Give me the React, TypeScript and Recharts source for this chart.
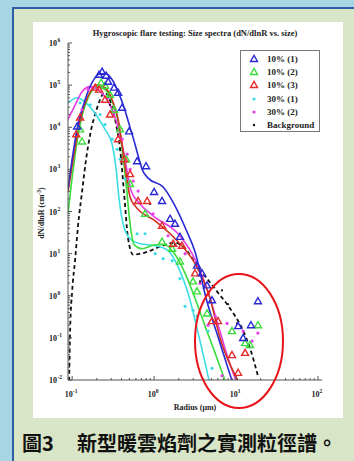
import React from "react";
import { ComposedChart, Line, Scatter, XAxis, YAxis, Legend } from "recharts";

// axes (log-log)
const X_DOMAIN = [0.089, 112];
const Y_DOMAIN = [0.01, 1e6];
const X_DECADES = [0.01, 0.1, 1, 10, 100];
const Y_DECADES = [0.01, 0.1, 1, 10, 100, 1e3, 1e4, 1e5, 1e6];

// measured points (r in um, n = dN/dlnR)
const tri10_1 = [
  { r: 0.115, n: 1.04e4 }, { r: 0.213, n: 1.76e5 }, { r: 0.232, n: 2.07e5 }, { r: 0.26, n: 1.67e5 },
  { r: 0.275, n: 1.2e5 }, { r: 0.325, n: 8.7e4 }, { r: 0.364, n: 6.6e4 }, { r: 0.407, n: 2.9e4 },
  { r: 0.496, n: 8.0e3 }, { r: 0.621, n: 1560 }, { r: 0.798, n: 1190 }, { r: 1.0, n: 290 },
  { r: 1.25, n: 178 }, { r: 1.57, n: 67 }, { r: 1.8, n: 51 }, { r: 2.07, n: 25 },
  { r: 3.34, n: 5.2 }, { r: 3.85, n: 3.4 }, { r: 4.43, n: 1.76 }, { r: 5.09, n: 0.78 },
  { r: 10.6, n: 0.19 }, { r: 12.2, n: 0.099 }, { r: 15.2, n: 0.2 }, { r: 18.5, n: 0.74 },
];
const tri10_2 = [
  { r: 0.125, n: 8.9e3 }, { r: 0.132, n: 4.6e3 }, { r: 0.226, n: 1.14e5 }, { r: 0.252, n: 9.7e4 },
  { r: 0.29, n: 5.9e4 }, { r: 0.325, n: 2.6e4 }, { r: 0.385, n: 8.9e3 }, { r: 0.456, n: 1740 },
  { r: 0.509, n: 448 }, { r: 0.776, n: 88 }, { r: 1.25, n: 19.2 }, { r: 1.66, n: 13.1 },
  { r: 2.07, n: 6.5 }, { r: 2.99, n: 2.19 }, { r: 3.34, n: 1.27 }, { r: 4.43, n: 0.38 },
  { r: 8.93, n: 0.145 }, { r: 12.9, n: 0.075 }, { r: 14.8, n: 0.068 }, { r: 18.5, n: 0.2 },
];
const tri10_3 = [
  { r: 0.112, n: 6.8e3 }, { r: 0.125, n: 1.7e4 }, { r: 0.191, n: 8.7e4 }, { r: 0.213, n: 7.8e4 },
  { r: 0.252, n: 4.5e4 }, { r: 0.29, n: 2.0e4 }, { r: 0.364, n: 5.2e3 }, { r: 0.431, n: 1740 },
  { r: 0.509, n: 770 }, { r: 0.638, n: 178 }, { r: 0.822, n: 178 }, { r: 1.25, n: 46 },
  { r: 1.71, n: 17.2 }, { r: 2.19, n: 15.4 }, { r: 3.16, n: 3.4 }, { r: 5.09, n: 0.25 },
  { r: 6.03, n: 0.25 }, { r: 8.93, n: 0.039 }, { r: 10.6, n: 0.0148 }, { r: 12.9, n: 0.044 },
];
const dot30_1 = [
  { r: 0.125, n: 3.8e4 }, { r: 0.166, n: 3.4e4 }, { r: 0.219, n: 2.0e4 }, { r: 0.252, n: 1.16e4 },
  { r: 0.308, n: 5.2e3 }, { r: 0.354, n: 3.0e3 }, { r: 0.385, n: 1740 }, { r: 0.443, n: 590 },
  { r: 0.621, n: 29.6 }, { r: 0.776, n: 29.6 }, { r: 1.03, n: 10 }, { r: 1.29, n: 7.6 },
  { r: 1.66, n: 6.8 }, { r: 2.07, n: 2.57 }, { r: 2.39, n: 0.56 }, { r: 2.99, n: 0.45 },
  { r: 3.34, n: 0.33 }, { r: 4.56, n: 0.145 }, { r: 5.09, n: 0.019 },
];
const dot30_2 = [
  { r: 0.132, n: 2.6e4 }, { r: 0.157, n: 7.8e4 }, { r: 0.18, n: 8.7e4 }, { r: 0.275, n: 5.0e4 },
  { r: 0.334, n: 2.4e4 }, { r: 0.407, n: 5.2e3 }, { r: 0.469, n: 2.3e3 }, { r: 0.509, n: 1000 },
  { r: 0.555, n: 527 }, { r: 0.638, n: 306 }, { r: 0.972, n: 88 }, { r: 1.48, n: 26.6 },
  { r: 2.39, n: 10 }, { r: 3.64, n: 1.96 }, { r: 4.56, n: 0.2 }, { r: 5.55, n: 0.33 },
  { r: 6.74, n: 0.0126 }, { r: 7.76, n: 0.22 }, { r: 12.2, n: 0.145 }, { r: 15.7, n: 0.084 },
  { r: 18.5, n: 0.13 },
];
const dotBg = [
  { r: 0.29, n: 3.4e4 }, { r: 0.385, n: 3.0e3 }, { r: 0.893, n: 151 }, { r: 1.8, n: 16.3 },
  { r: 3.64, n: 2.19 }, { r: 6.74, n: 1.34 }, { r: 7.98, n: 0.63 }, { r: 10.3, n: 0.22 },
];

// fitted spectra
const fit10_1 = [
  { r: 0.089, n: 341 }, { r: 0.1, n: 1740 }, { r: 0.118, n: 1.16e4 }, { r: 0.144, n: 4.5e4 },
  { r: 0.175, n: 1.14e5 }, { r: 0.219, n: 1.86e5 }, { r: 0.26, n: 1.86e5 }, { r: 0.308, n: 1.34e5 },
  { r: 0.364, n: 7.0e4 }, { r: 0.431, n: 2.9e4 }, { r: 0.509, n: 9.9e3 }, { r: 0.586, n: 3.9e3 },
  { r: 0.656, n: 1740 }, { r: 0.714, n: 1010 }, { r: 0.846, n: 620 }, { r: 1.29, n: 380 },
  { r: 1.8, n: 136 }, { r: 2.52, n: 33 }, { r: 3.16, n: 11.1 }, { r: 4.31, n: 0.87 },
  { r: 6.38, n: 0.075 }, { r: 8.93, n: 0.0096 },
];
const fit10_2 = [
  { r: 0.089, n: 88 }, { r: 0.103, n: 1010 }, { r: 0.125, n: 1.16e4 }, { r: 0.157, n: 5.0e4 },
  { r: 0.202, n: 9.2e4 }, { r: 0.252, n: 7.8e4 }, { r: 0.308, n: 4.1e4 }, { r: 0.364, n: 1.37e4 },
  { r: 0.407, n: 3.0e3 }, { r: 0.456, n: 448 }, { r: 0.509, n: 51 }, { r: 0.57, n: 16.3 },
  { r: 0.714, n: 13.1 }, { r: 1.03, n: 16.3 }, { r: 1.36, n: 16.3 }, { r: 1.8, n: 9.5 },
  { r: 2.39, n: 3.4 }, { r: 3.16, n: 0.87 }, { r: 4.19, n: 0.19 }, { r: 5.55, n: 0.044 },
  { r: 7.35, n: 0.0096 },
];
const fit10_3 = [
  { r: 0.089, n: 290 }, { r: 0.103, n: 1740 }, { r: 0.125, n: 1.53e4 }, { r: 0.157, n: 5.6e4 },
  { r: 0.202, n: 1.02e5 }, { r: 0.252, n: 8.7e4 }, { r: 0.308, n: 4.5e4 }, { r: 0.364, n: 1.53e4 },
  { r: 0.407, n: 3.9e3 }, { r: 0.456, n: 770 }, { r: 0.509, n: 221 }, { r: 0.586, n: 136 },
  { r: 1.03, n: 60 }, { r: 1.96, n: 19.2 }, { r: 3.16, n: 5.8 }, { r: 4.82, n: 0.87 },
  { r: 6.38, n: 0.099 }, { r: 10.6, n: 0.0096 },
];
const fit30_1 = [
  { r: 0.089, n: 3.8e4 }, { r: 0.115, n: 5.0e4 }, { r: 0.152, n: 3.6e4 }, { r: 0.202, n: 1.8e4 },
  { r: 0.252, n: 8.9e3 }, { r: 0.308, n: 3.9e3 }, { r: 0.344, n: 1010 }, { r: 0.374, n: 198 },
  { r: 0.419, n: 51 }, { r: 0.509, n: 22.6 }, { r: 0.675, n: 17.2 }, { r: 1.03, n: 15.4 },
  { r: 1.48, n: 11.8 }, { r: 1.96, n: 4.9 }, { r: 2.6, n: 1.14 }, { r: 3.34, n: 0.17 },
  { r: 4.07, n: 0.033 }, { r: 4.69, n: 0.0096 },
];
const fit30_2 = [
  { r: 0.089, n: 1.53e4 }, { r: 0.109, n: 3.4e4 }, { r: 0.132, n: 7.0e4 }, { r: 0.166, n: 9.2e4 },
  { r: 0.207, n: 7.8e4 }, { r: 0.252, n: 5.3e4 }, { r: 0.308, n: 2.6e4 }, { r: 0.364, n: 9.9e3 },
  { r: 0.419, n: 3.0e3 }, { r: 0.469, n: 907 }, { r: 0.525, n: 306 }, { r: 0.675, n: 151 },
  { r: 0.972, n: 79 }, { r: 1.96, n: 29.6 }, { r: 2.91, n: 10 }, { r: 4.19, n: 1.96 },
  { r: 6.21, n: 0.17 }, { r: 7.98, n: 0.033 }, { r: 10, n: 0.0096 },
];
const fitBg = [
  { r: 0.0919, n: 0.0096 }, { r: 0.0946, n: 0.17 }, { r: 0.1, n: 1.27 }, { r: 0.109, n: 7.6 },
  { r: 0.118, n: 46 }, { r: 0.132, n: 290 }, { r: 0.148, n: 1740 }, { r: 0.166, n: 6.8e3 },
  { r: 0.196, n: 2.4e4 }, { r: 0.219, n: 4.5e4 }, { r: 0.246, n: 6.6e4 }, { r: 0.275, n: 5.6e4 },
  { r: 0.308, n: 2.9e4 }, { r: 0.344, n: 1.16e4 }, { r: 0.385, n: 3.0e3 }, { r: 0.431, n: 260 },
  { r: 0.482, n: 22.6 }, { r: 0.555, n: 9.5 }, { r: 0.776, n: 10.6 }, { r: 1.18, n: 14.6 },
  { r: 1.8, n: 18.2 }, { r: 2.39, n: 13.1 }, { r: 3.34, n: 5.2 }, { r: 5.86, n: 1.27 },
  { r: 8.45, n: 0.5 }, { r: 11.8, n: 0.17 }, { r: 14.8, n: 0.057 }, { r: 18.5, n: 0.0126 },
];

const LEGEND_LABELS = ["10% (1)", "10% (2)", "10% (3)", "30% (1)", "30% (2)", "Background"];
const TITLE = "Hygroscopic flare testing: Size spectra (dN/dlnR vs. size)";

const BLUE = "#2a2ad4";
const GREEN = "#3cdc3c";
const RED = "#e62a2a";
const CYAN = "#3cdde6";
const MAGENTA = "#e63ce6";
const BLACK = "#111";
const AXIS = "#555";
const SERIF = "'Liberation Serif', 'DejaVu Serif', serif";
const LEGEND_COLORS = [BLUE, GREEN, RED, CYAN, MAGENTA, BLACK];

const ticksFor = (decades: number[], lo: number, hi: number) =>
  decades
    .flatMap((d) => [1, 2, 3, 4, 5, 6, 7, 8, 9].map((m) => d * m))
    .filter((v) => v >= lo && v <= hi);
const X_TICKS = ticksFor(X_DECADES, X_DOMAIN[0], X_DOMAIN[1]);
const Y_TICKS = ticksFor(Y_DECADES, Y_DOMAIN[0], Y_DOMAIN[1]);

const expOf = (v: number) => {
  const l = Math.log10(v);
  const e = Math.round(l);
  return { e, major: Math.abs(l - e) < 1e-6 };
};

const BottomTick = (p: any) => {
  const { x, y, payload } = p;
  const { e, major } = expOf(payload.value);
  return (
    <g>
      <line x1={x} x2={x} y1={y} y2={y - (major ? 4 : 2)} stroke={AXIS} />
      {major && (
        <text x={x - 1} y={y + 17} textAnchor="middle" fontFamily={SERIF} fontWeight="bold" fontSize={8} fill="#222">
          10<tspan dy={-4} fontSize={5.5}>{e}</tspan>
        </text>
      )}
    </g>
  );
};
const TopTick = (p: any) => {
  const { x, y, payload } = p;
  const { major } = expOf(payload.value);
  return <line x1={x} x2={x} y1={y} y2={y + (major ? 4 : 2)} stroke={AXIS} />;
};
const LeftTick = (p: any) => {
  const { x, y, payload } = p;
  const { e, major } = expOf(payload.value);
  return (
    <g>
      <line x1={x} x2={x + (major ? 4 : 2)} y1={y} y2={y} stroke={AXIS} />
      {major && (
        <>
          <text x={x - 11} y={y + 3} textAnchor="end" fontFamily={SERIF} fontWeight="bold" fontSize={8} fill="#222">
            10
          </text>
          <text x={x - 10.5} y={y - 1} textAnchor="start" fontFamily={SERIF} fontWeight="bold" fontSize={5.5} fill="#222">
            {e}
          </text>
        </>
      )}
    </g>
  );
};
const RightTick = (p: any) => {
  const { x, y, payload } = p;
  const { major } = expOf(payload.value);
  return <line x1={x} x2={x - (major ? 4 : 2)} y1={y} y2={y} stroke={AXIS} />;
};

const triangle = (color: string) => (p: any) => {
  const { cx, cy } = p;
  return (
    <path
      d={`M${cx},${cy - 3.6}L${cx + 3.5},${cy + 2.5}L${cx - 3.5},${cy + 2.5}Z`}
      fill="none"
      stroke={color}
      strokeWidth={1.4}
    />
  );
};
const dot = (color: string, r: number) => (p: any) => <circle cx={p.cx} cy={p.cy} r={r} fill={color} />;

const LegendBox = () => (
  <div
    style={{
      width: 80,
      height: 82,
      boxSizing: "border-box",
      border: "1px solid #777",
      background: "#fff",
      paddingTop: 1,
    }}
  >
    {LEGEND_LABELS.map((label, i) => (
      <div key={label} style={{ display: "flex", alignItems: "center", height: 13.3 }}>
        <svg width={26} height={12}>
          {i < 3 ? (
            <path d="M13,2.4L16.5,8.5L9.5,8.5Z" fill="none" stroke={LEGEND_COLORS[i]} strokeWidth={1.4} />
          ) : (
            <circle cx={13} cy={6} r={i === 5 ? 1.2 : 1.6} fill={LEGEND_COLORS[i]} />
          )}
        </svg>
        <span style={{ fontFamily: SERIF, fontWeight: "bold", fontSize: 9, color: "#222", whiteSpace: "nowrap" }}>
          {label}
        </span>
      </div>
    ))}
  </div>
);

export default function App() {
  return (
    <div
      style={{
        position: "absolute",
        left: 0,
        top: 0,
        width: 354,
        height: 461,
        overflow: "hidden",
        background: "#a7d5e3",
      }}
    >
      <div
        style={{
          position: "absolute",
          left: 12,
          top: 7,
          width: 350,
          height: 460,
          background: "#d8e5c6",
          borderLeft: "2px solid #2f5ca6",
          borderTop: "2px solid #2f5ca6",
        }}
      />
      <div style={{ position: "absolute", left: 33, top: 22, width: 310, height: 396, background: "#fff" }}>
        <ComposedChart width={310} height={396} margin={{ top: 21, right: 21, bottom: 0, left: 0 }}>
          <XAxis
            xAxisId={0}
            dataKey="r"
            type="number"
            scale="log"
            domain={X_DOMAIN}
            allowDataOverflow
            ticks={X_TICKS}
            interval={0}
            tickSize={0}
            tickMargin={0}
            tick={<BottomTick />}
            height={38}
            stroke={AXIS}
          />
          <XAxis
            xAxisId="top"
            orientation="top"
            type="number"
            scale="log"
            domain={X_DOMAIN}
            allowDataOverflow
            ticks={X_TICKS}
            interval={0}
            tickSize={0}
            tickMargin={0}
            tick={<TopTick />}
            height={0}
            stroke={AXIS}
          />
          <YAxis
            yAxisId={0}
            dataKey="n"
            type="number"
            scale="log"
            domain={Y_DOMAIN}
            allowDataOverflow
            ticks={Y_TICKS}
            interval={0}
            tickSize={0}
            tickMargin={0}
            tick={<LeftTick />}
            width={35}
            stroke={AXIS}
          />
          <YAxis
            yAxisId="right"
            orientation="right"
            type="number"
            scale="log"
            domain={Y_DOMAIN}
            allowDataOverflow
            ticks={Y_TICKS}
            interval={0}
            tickSize={0}
            tickMargin={0}
            tick={<RightTick />}
            width={0}
            stroke={AXIS}
          />
          <Line data={fitBg} dataKey="n" type="monotone" stroke={BLACK} strokeWidth={1.8} strokeDasharray="4 3" dot={false} isAnimationActive={false} />
          <Line data={fit30_1} dataKey="n" type="monotone" stroke={CYAN} strokeWidth={1.6} dot={false} isAnimationActive={false} />
          <Line data={fit10_2} dataKey="n" type="monotone" stroke={GREEN} strokeWidth={1.6} dot={false} isAnimationActive={false} />
          <Line data={fit30_2} dataKey="n" type="monotone" stroke={MAGENTA} strokeWidth={1.6} dot={false} isAnimationActive={false} />
          <Line data={fit10_3} dataKey="n" type="monotone" stroke="#d0321e" strokeWidth={1.6} dot={false} isAnimationActive={false} />
          <Line data={fit10_1} dataKey="n" type="monotone" stroke={BLUE} strokeWidth={1.6} dot={false} isAnimationActive={false} />
          <Scatter data={dot30_1} dataKey="n" shape={dot(CYAN, 1.6)} isAnimationActive={false} />
          <Scatter data={dot30_2} dataKey="n" shape={dot(MAGENTA, 1.6)} isAnimationActive={false} />
          <Scatter data={dotBg} dataKey="n" shape={dot(BLACK, 1.1)} isAnimationActive={false} />
          <Scatter data={tri10_2} dataKey="n" shape={triangle(GREEN)} isAnimationActive={false} />
          <Scatter data={tri10_3} dataKey="n" shape={triangle(RED)} isAnimationActive={false} />
          <Scatter data={tri10_1} dataKey="n" shape={triangle(BLUE)} isAnimationActive={false} />
          <Legend
            layout="vertical"
            align="center"
            verticalAlign="middle"
            content={() => <LegendBox />}
            wrapperStyle={{ position: "absolute", left: 207, top: 28, width: 80, height: 82 }}
          />
        </ComposedChart>
      </div>
      <svg
        width={354}
        height={461}
        style={{ position: "absolute", left: 0, top: 0, pointerEvents: "none" }}
      >
        <text x={195} y={36} textAnchor="middle" fontFamily={SERIF} fontWeight="bold" fontSize={8.5} fill="#222">
          {TITLE}
        </text>
        <text x={195} y={410} textAnchor="middle" fontFamily={SERIF} fontWeight="bold" fontSize={8} fill="#222">
          Radius (μm)
        </text>
        <text
          transform="translate(44,213) rotate(-90)"
          textAnchor="middle"
          fontFamily={SERIF}
          fontWeight="bold"
          fontSize={8}
          fill="#222"
        >
          dN/dlnR (cm<tspan dy={-3} fontSize={5.5}>-3</tspan>
          <tspan dy={3}>)</tspan>
        </text>
        <ellipse cx={239} cy={341} rx={44} ry={67} fill="none" stroke="#e8141a" strokeWidth={2} />
        <text x={22} y={451} fontFamily="'Noto Sans CJK TC', sans-serif" fontWeight="bold" fontSize={20} fill="#111">
          圖3
        </text>
        <text x={77} y={451} fontFamily="'Noto Sans CJK TC', sans-serif" fontWeight="bold" fontSize={20} fill="#111">
          新型暖雲焰劑之實測粒徑譜。
        </text>
      </svg>
    </div>
  );
}
